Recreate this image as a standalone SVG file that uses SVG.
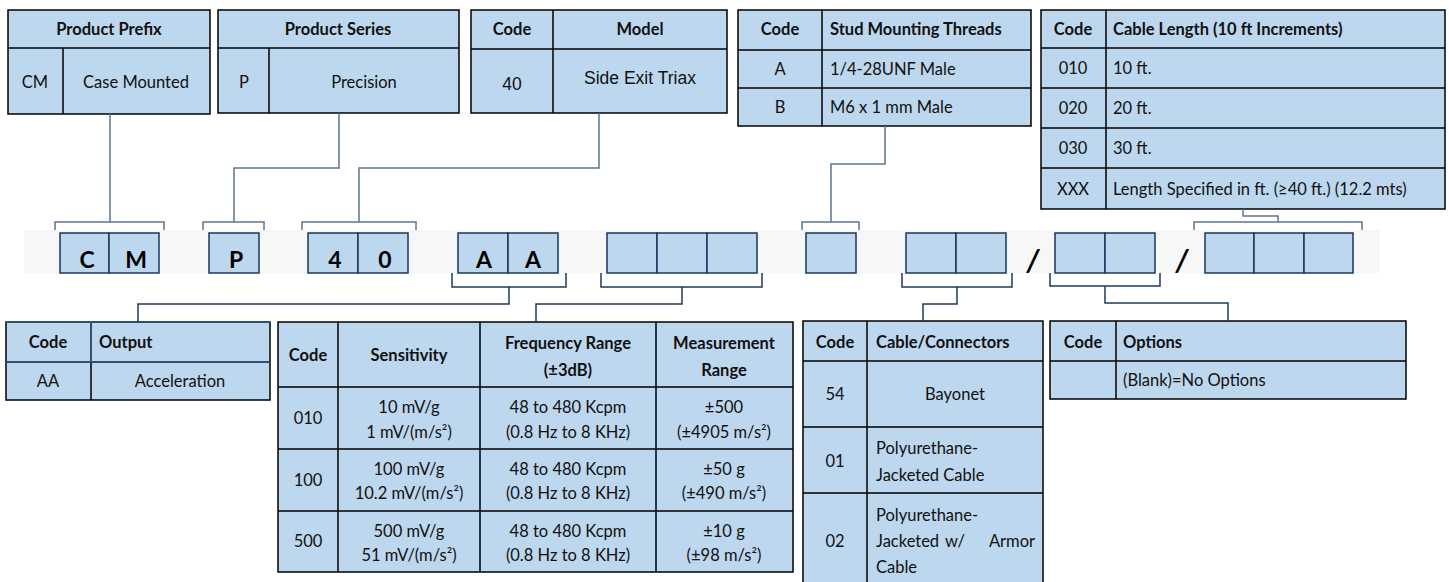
<svg xmlns="http://www.w3.org/2000/svg" width="1449" height="582" viewBox="0 0 1449 582">
<style>
.cell{fill:#BDD7EE;stroke:#000;stroke-width:1.5}
.ln{stroke:#000;stroke-width:1.5;fill:none}
.box{fill:#BDD7EE;stroke:#17375E;stroke-width:1.5}
.cn{fill:none;stroke:#5F7691;stroke-width:1.5}
.cn2{fill:none;stroke:#1F3A5C;stroke-width:1.5}
text{font-family:Lato,"Liberation Sans",sans-serif;fill:#111;font-size:16.5px}
.h{font-weight:bold}
.c{text-anchor:middle}
.ar{font-family:"Liberation Sans",Arial,sans-serif;font-size:17.5px}
.code{font-weight:bold;font-size:23px;text-anchor:middle;fill:#000}
.sl{font-weight:bold;font-size:30px;font-style:italic;fill:#000;text-anchor:middle}
</style>
<rect width="1449" height="582" fill="#fff"/>

<!-- code strip -->
<g id="code-strip">
<rect x="24" y="230" width="1356" height="43" fill="#F7F7F7"/>
<rect class="box" x="60" y="233" width="49" height="40"/><rect class="box" x="109" y="233" width="50" height="40"/>
<rect class="box" x="209" y="233" width="50" height="40"/>
<rect class="box" x="308" y="233" width="50" height="40"/><rect class="box" x="358" y="233" width="50" height="40"/>
<rect class="box" x="458" y="233" width="50" height="40"/><rect class="box" x="508" y="233" width="50" height="40"/>
<rect class="box" x="607" y="233" width="50" height="40"/><rect class="box" x="657" y="233" width="50" height="40"/><rect class="box" x="707" y="233" width="50" height="40"/>
<rect class="box" x="806" y="233" width="50" height="40"/>
<rect class="box" x="906" y="233" width="50" height="40"/><rect class="box" x="956" y="233" width="50" height="40"/>
<rect class="box" x="1055" y="233" width="50" height="40"/><rect class="box" x="1105" y="233" width="50" height="40"/>
<rect class="box" x="1205" y="233" width="49" height="40"/><rect class="box" x="1254" y="233" width="50" height="40"/><rect class="box" x="1304" y="233" width="49" height="40"/>
<text class="code" x="87" y="268">C</text><text class="code" x="136" y="268">M</text>
<text class="code" x="236" y="268">P</text>
<text class="code" x="335" y="268">4</text><text class="code" x="385" y="268">0</text>
<text class="code" x="484" y="268">A</text><text class="code" x="533" y="268">A</text>
<text class="sl" x="1033" y="271">/</text>
<text class="sl" x="1182" y="271">/</text>
</g>

<!-- top tables -->
<g id="t-prefix">
<rect class="cell" x="8" y="10" width="202" height="104"/>
<path class="ln" d="M8 48H210M63 48V114"/>
<text class="h c" x="109" y="35">Product Prefix</text>
<text class="c" x="35" y="88">CM</text>
<text class="c" x="136" y="88">Case Mounted</text>
</g>
<g id="t-series">
<rect class="cell" x="218" y="10" width="241" height="103"/>
<path class="ln" d="M218 48H459M269 48V113"/>
<text class="h c" x="338" y="35">Product Series</text>
<text class="c" x="244" y="88">P</text>
<text class="c" x="364" y="88">Precision</text>
</g>
<g id="t-model">
<rect class="cell" x="471" y="10" width="256" height="103"/>
<path class="ln" d="M471 49H727M553 10V113"/>
<text class="h c" x="512" y="35">Code</text>
<text class="h c" x="640" y="35">Model</text>
<text class="ar c" x="512" y="90">40</text>
<text class="ar c" x="640" y="84">Side Exit Triax</text>
</g>
<g id="t-stud">
<rect class="cell" x="738" y="10" width="293" height="116"/>
<path class="ln" d="M738 50H1031M738 88H1031M822 10V126"/>
<text class="h c" x="780" y="35">Code</text>
<text class="h" x="830" y="35">Stud Mounting Threads</text>
<text class="c" x="780" y="75">A</text>
<text x="830" y="75">1/4-28UNF Male</text>
<text class="c" x="780" y="113">B</text>
<text x="830" y="113">M6 x 1 mm Male</text>
</g>
<g id="t-length">
<rect class="cell" x="1041" y="10" width="404" height="199"/>
<path class="ln" d="M1041 48H1445M1041 88H1445M1041 128H1445M1041 168H1445M1106 10V209"/>
<text class="h c" x="1073" y="35">Code</text>
<text class="h" x="1113" y="35">Cable Length (10 ft Increments)</text>
<text class="c" x="1073" y="74">010</text><text x="1113" y="74">10 ft.</text>
<text class="c" x="1073" y="114">020</text><text x="1113" y="114">20 ft.</text>
<text class="c" x="1073" y="154">030</text><text x="1113" y="154">30 ft.</text>
<text class="c" x="1073" y="195">XXX</text><text x="1113" y="195">Length Specified in ft. (≥40 ft.) (12.2 mts)</text>
</g>

<!-- bottom tables -->
<g id="t-output">
<rect class="cell" x="6" y="322" width="264" height="78"/>
<path class="ln" d="M6 362H270M91 322V400"/>
<path d="M6 322H270M91 322V362M6 362H270" fill="none" stroke="#2F5A85" stroke-width="1.5"/>
<text class="h c" x="48" y="348">Code</text>
<text class="h" x="99" y="348">Output</text>
<text class="c" x="48" y="387">AA</text>
<text class="c" x="180" y="387">Acceleration</text>
</g>
<g id="t-sensitivity">
<rect class="cell" x="278" y="322" width="515" height="250"/>
<path class="ln" d="M278 387H793M278 449H793M278 511H793M338 322V572M480 322V572M656 322V572"/>
<text class="h c" x="308" y="361">Code</text>
<text class="h c" x="409" y="361">Sensitivity</text>
<text class="h c" x="568" y="349">Frequency Range</text>
<text class="h c" x="568" y="376">(±3dB)</text>
<text class="h c" x="724" y="349">Measurement</text>
<text class="h c" x="724" y="376">Range</text>
<text class="c" x="308" y="424">010</text>
<text class="c" x="409" y="413">10 mV/g</text><text class="c" x="409" y="438">1 mV/(m/s²)</text>
<text class="c" x="568" y="413">48 to 480 Kcpm</text><text class="c" x="568" y="438">(0.8 Hz to 8 KHz)</text>
<text class="c" x="724" y="413">±500</text><text class="c" x="724" y="438">(±4905 m/s²)</text>
<text class="c" x="308" y="486">100</text>
<text class="c" x="409" y="475">100 mV/g</text><text class="c" x="409" y="499">10.2 mV/(m/s²)</text>
<text class="c" x="568" y="475">48 to 480 Kcpm</text><text class="c" x="568" y="499">(0.8 Hz to 8 KHz)</text>
<text class="c" x="724" y="475">±50 g</text><text class="c" x="724" y="499">(±490 m/s²)</text>
<text class="c" x="308" y="547">500</text>
<text class="c" x="409" y="537">500 mV/g</text><text class="c" x="409" y="561">51 mV/(m/s²)</text>
<text class="c" x="568" y="537">48 to 480 Kcpm</text><text class="c" x="568" y="561">(0.8 Hz to 8 KHz)</text>
<text class="c" x="724" y="537">±10 g</text><text class="c" x="724" y="561">(±98 m/s²)</text>
</g>
<g id="t-cable">
<rect class="cell" x="803" y="321" width="240" height="270"/>
<path class="ln" d="M803 361H1043M803 427H1043M803 493H1043M867 321V591"/>
<text class="h c" x="835" y="348">Code</text>
<text class="h" x="876" y="348">Cable/Connectors</text>
<text class="c" x="835" y="400">54</text>
<text class="c" x="955" y="400">Bayonet</text>
<text class="c" x="835" y="467">01</text>
<text x="876" y="454">Polyurethane-</text>
<text x="876" y="481">Jacketed Cable</text>
<text class="c" x="835" y="547">02</text>
<text x="876" y="521">Polyurethane-</text>
<text x="876" y="547">Jacketed</text><text x="945" y="547">w/</text><text x="1035" y="547" text-anchor="end">Armor</text>
<text x="876" y="573">Cable</text>
</g>
<g id="t-options">
<rect class="cell" x="1050" y="321" width="356" height="78"/>
<path class="ln" d="M1050 361H1406M1116 321V399"/>
<text class="h c" x="1083" y="348">Code</text>
<text class="h" x="1123" y="348">Options</text>
<text x="1123" y="386">(Blank)=No Options</text>
</g>

<!-- connectors -->
<g id="connectors">
<path class="cn" d="M110 114V222M55 230V222H164V230"/>
<path class="cn" d="M339 113V168H234V222M203 230V222H264V230"/>
<path class="cn" d="M599 113V168H359V222M302 230V222H416V230"/>
<path class="cn" d="M885 126V164H831V222M802 230V222H859V230"/>
<path class="cn" d="M1243 209V216H1278V222M1194 230V222H1362V230"/>
<path class="cn2" d="M452 273V287H566V273M509 287V304H138V322"/>
<path class="cn2" d="M601 273V287H762V273M682 287V304H536V322"/>
<path class="cn2" d="M902 273V287H1012V273M957 287V304H923V321"/>
<path class="cn2" d="M1050 273V286H1160V273M1105 286V303H1228V321"/>
</g>
</svg>
